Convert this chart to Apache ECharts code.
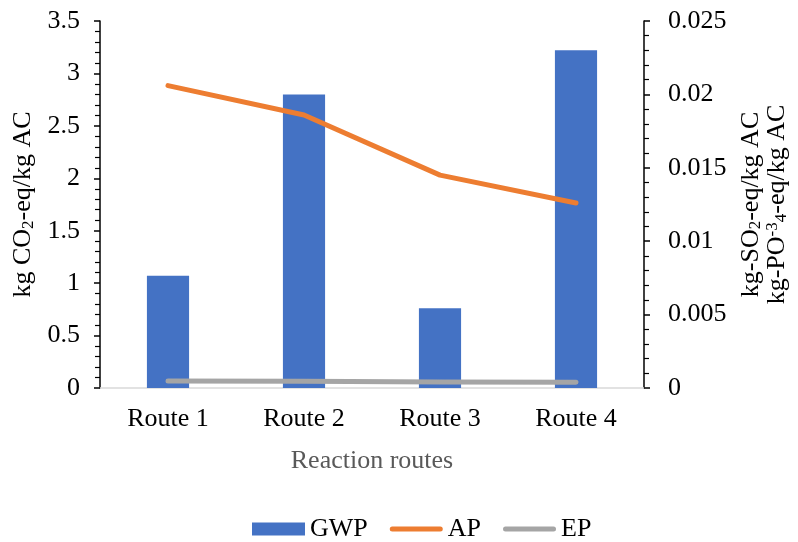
<!DOCTYPE html>
<html>
<head>
<meta charset="utf-8">
<script src="https://cdn.jsdelivr.net/npm/echarts@6/dist/echarts.min.js"></script>
<style>
html,body{margin:0;padding:0;background:#fff;}
#chart{width:798px;height:542px;}
</style>
</head>
<body>
<div id="chart"></div>
<script>
const categories = ['Route 1', 'Route 2', 'Route 3', 'Route 4'];
const gwp = [1.07, 2.80, 0.76, 3.22];
const ap = [0.0206, 0.0186, 0.0145, 0.0126];
const ep = [0.00048, 0.00046, 0.00041, 0.00039];

const FONT = "'Liberation Serif', 'Times New Roman', serif";
const chart = echarts.init(document.getElementById('chart'));

const richName = {
  n: {fontSize: 26, lineHeight: 26, fontFamily: FONT, color: '#000', verticalAlign: 'middle'},
  s: {fontSize: 17, lineHeight: 13, fontFamily: FONT, color: '#000', verticalAlign: 'bottom'},
  p: {fontSize: 17, lineHeight: 13, fontFamily: FONT, color: '#000', verticalAlign: 'top'}
};
const lineIcon = 'path://M2.5,0 L50.5,0 A2.5,2.5 0 0 1 50.5,5 L2.5,5 A2.5,2.5 0 0 1 2.5,0 Z';

chart.setOption({
  animation: false,
  textStyle: {fontFamily: FONT},
  grid: {left: 100, right: 152, top: 21, bottom: 154, containLabel: false},
  legend: {
    top: 511,
    left: 247,
    itemWidth: 53,
    itemHeight: 13,
    itemGap: 22,
    textStyle: {fontSize: 26, color: '#000', fontFamily: FONT},
    data: [
      {name: 'GWP', icon: 'rect'},
      {name: 'AP', icon: lineIcon},
      {name: 'EP', icon: lineIcon}
    ]
  },
  xAxis: {
    type: 'category',
    data: categories,
    axisLine: {lineStyle: {color: '#D9D9D9', width: 1.5}},
    axisTick: {show: false},
    axisLabel: {fontSize: 26, color: '#000', fontFamily: FONT, margin: 18},
    name: 'Reaction routes',
    nameLocation: 'middle',
    nameGap: 60,
    nameTextStyle: {fontSize: 26, color: '#595959', fontFamily: FONT, verticalAlign: 'top'}
  },
  yAxis: [
    {
      type: 'value',
      min: 0, max: 3.5, interval: 0.5,
      position: 'left',
      axisLine: {show: true, lineStyle: {color: '#000', width: 1.5}},
      axisTick: {show: true, length: 6, lineStyle: {color: '#000', width: 1.5}},
      minorTick: {show: true, splitNumber: 5, length: 5, lineStyle: {color: '#000', width: 1.2}},
      splitLine: {show: false},
      axisLabel: {fontSize: 26, color: '#000', fontFamily: FONT, margin: 20},
      name: '{n|kg CO}{s|2}{n|-eq/kg AC}',
      nameLocation: 'middle',
      nameRotate: 90,
      nameGap: 57,
      nameTextStyle: {rich: richName}
    },
    {
      type: 'value',
      min: 0, max: 0.025, interval: 0.005,
      position: 'right',
      axisLine: {show: true, lineStyle: {color: '#000', width: 1.5}},
      axisTick: {show: true, length: 6, lineStyle: {color: '#000', width: 1.5}},
      minorTick: {show: true, splitNumber: 5, length: 5, lineStyle: {color: '#000', width: 1.2}},
      splitLine: {show: false},
      axisLabel: {fontSize: 26, color: '#000', fontFamily: FONT, margin: 24},
      name: '{n|kg-SO}{s|2}{n|-eq/kg AC}\n{n|kg-PO}{p|-3}{s|4}{n|-eq/kg AC}',
      nameLocation: 'middle',
      nameRotate: 90,
      nameGap: 94,
      nameTextStyle: {rich: richName, align: 'center'}
    }
  ],
  series: [
    {
      name: 'GWP',
      type: 'bar',
      data: gwp,
      barWidth: '31%',
      itemStyle: {color: '#4472C4'},
      yAxisIndex: 0
    },
    {
      name: 'AP',
      type: 'line',
      data: ap,
      yAxisIndex: 1,
      symbol: 'none',
      lineStyle: {color: '#ED7D31', width: 5, cap: 'round', join: 'round'},
      itemStyle: {color: '#ED7D31'}
    },
    {
      name: 'EP',
      type: 'line',
      data: ep,
      yAxisIndex: 1,
      symbol: 'none',
      lineStyle: {color: '#A5A5A5', width: 5, cap: 'round', join: 'round'},
      itemStyle: {color: '#A5A5A5'}
    }
  ]
});
</script>
</body>
</html>
